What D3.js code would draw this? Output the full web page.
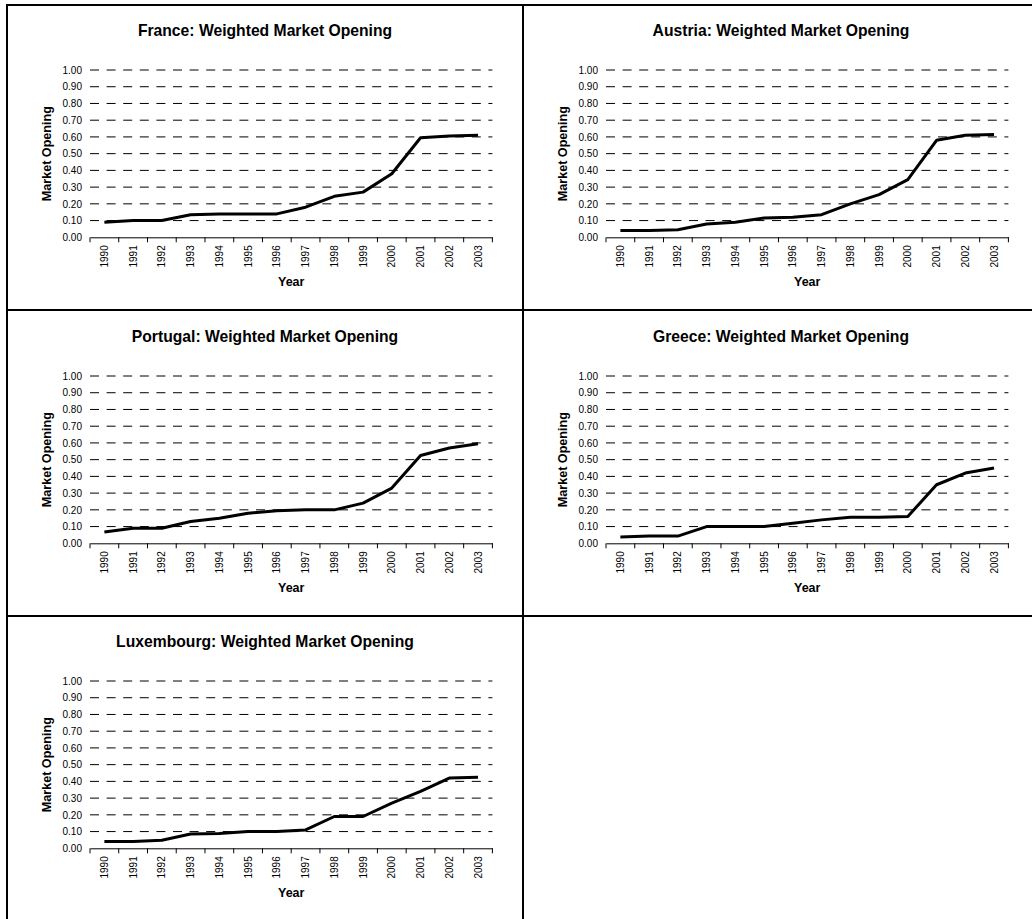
<!DOCTYPE html>
<html>
<head>
<meta charset="utf-8">
<script src="https://cdn.jsdelivr.net/npm/d3@7"></script>
<style>
  html, body { margin: 0; padding: 0; background: #fff; }
  svg { display: block; font-family: "Liberation Sans", Arial, sans-serif; }
</style>
</head>
<body>
<svg id="chart" width="1032" height="919"></svg>
<script>
const years = ["1990","1991","1992","1993","1994","1995","1996","1997","1998","1999","2000","2001","2002","2003"];
const yTicks = [0,0.1,0.2,0.3,0.4,0.5,0.6,0.7,0.8,0.9,1.0];
const countries = ["France","Austria","Portugal","Greece","Luxembourg"];
const france     = [0.09,0.10,0.10,0.135,0.14,0.14,0.14,0.18,0.245,0.27,0.38,0.595,0.605,0.61];
const austria    = [0.04,0.04,0.045,0.08,0.09,0.115,0.12,0.135,0.20,0.255,0.345,0.58,0.61,0.615];
const portugal   = [0.068,0.09,0.09,0.13,0.15,0.18,0.195,0.20,0.20,0.24,0.33,0.525,0.57,0.595];
const greece     = [0.037,0.043,0.043,0.10,0.10,0.10,0.12,0.14,0.155,0.155,0.16,0.35,0.42,0.45];
const luxembourg = [0.04,0.04,0.048,0.086,0.088,0.10,0.10,0.11,0.19,0.19,0.27,0.34,0.42,0.425];
const seriesList = [france, austria, portugal, greece, luxembourg];

const svg = d3.select("#chart");

// panel frame lines
const colX = [7, 523];
const rowY = [5, 310, 616];
const frame = svg.append("g").attr("stroke", "#000").attr("stroke-width", 2);
frame.append("line").attr("x1", 6).attr("x2", 1032).attr("y1", rowY[0]).attr("y2", rowY[0]);
frame.append("line").attr("x1", 6).attr("x2", 1032).attr("y1", rowY[1]).attr("y2", rowY[1]);
frame.append("line").attr("x1", 6).attr("x2", 1032).attr("y1", rowY[2]).attr("y2", rowY[2]);
frame.append("line").attr("x1", colX[0]).attr("x2", colX[0]).attr("y1", 4).attr("y2", 919);
frame.append("line").attr("x1", colX[1]).attr("x2", colX[1]).attr("y1", 4).attr("y2", 919);

const panelW = 516;
const plotLeftOff = 83;
const plotTopOff = [65, 66, 65];
const plotW = 402.4;
const plotH = 167.3;

countries.forEach((name, i) => {
  const col = i % 2, row = Math.floor(i / 2);
  const px = colX[col], py = rowY[row];
  const left = px + plotLeftOff, top = py + plotTopOff[row];
  const g = svg.append("g");

  const x = d3.scaleBand().domain(years).range([left, left + plotW]);
  const y = d3.scaleLinear().domain([0, 1]).range([top + plotH, top]);

  // title
  g.append("text")
    .attr("x", px + panelW / 2).attr("y", top - 34)
    .attr("text-anchor", "middle")
    .attr("font-weight", "bold").attr("font-size", 15.7)
    .text(name + ": Weighted Market Opening");

  // gridlines (dashed)
  g.append("g").selectAll("line").data(yTicks.filter(t => t > 0)).join("line")
    .attr("x1", left).attr("x2", left + plotW)
    .attr("y1", d => y(d)).attr("y2", d => y(d))
    .attr("stroke", "#000").attr("stroke-width", 1)
    .attr("stroke-dasharray", "9,7.6");

  // y axis labels
  const yAxis = d3.axisLeft(y).tickValues(yTicks).tickFormat(d3.format(".2f")).tickSize(0).tickPadding(8);
  const ya = g.append("g").attr("transform", `translate(${left},0)`).call(yAxis);
  ya.select(".domain").remove();
  ya.selectAll("text").attr("font-size", 10).attr("font-family", "Liberation Sans, Arial, sans-serif").attr("fill", "#000");

  // x axis
  const xAxis = d3.axisBottom(x).tickSize(0).tickFormat(d => d);
  const xa = g.append("g").attr("transform", `translate(0,${top + plotH})`).call(xAxis);
  xa.select(".domain").attr("stroke", "#000").attr("stroke-width", 1);
  xa.selectAll("text")
    .attr("font-size", 10).attr("font-family", "Liberation Sans, Arial, sans-serif").attr("fill", "#000")
    .attr("transform", "rotate(-90)")
    .attr("text-anchor", "end")
    .attr("x", -8).attr("y", 0).attr("dy", "0.35em");
  // boundary tick marks
  const bounds = years.map(d => x(d)).concat([x(years[years.length - 1]) + x.bandwidth()]);
  g.append("g").selectAll("line").data(bounds).join("line")
    .attr("x1", d => d).attr("x2", d => d)
    .attr("y1", top + plotH).attr("y2", top + plotH + 5)
    .attr("stroke", "#000").attr("stroke-width", 1);

  // axis titles
  g.append("text")
    .attr("transform", `translate(${px + 40},${top + plotH / 2}) rotate(-90)`)
    .attr("text-anchor", "middle").attr("dy", "0.35em")
    .attr("font-weight", "bold").attr("font-size", 12.6)
    .text("Market Opening");
  g.append("text")
    .attr("x", left + plotW / 2).attr("y", top + plotH + 49)
    .attr("text-anchor", "middle")
    .attr("font-weight", "bold").attr("font-size", 12.5)
    .text("Year");

  // line
  const line = d3.line().x((d, j) => x(years[j]) + x.bandwidth() / 2).y(d => y(d));
  g.append("path").datum(seriesList[i])
    .attr("d", line).attr("fill", "none")
    .attr("stroke", "#000").attr("stroke-width", 3).attr("stroke-linejoin", "round");
});
</script>
</body>
</html>
